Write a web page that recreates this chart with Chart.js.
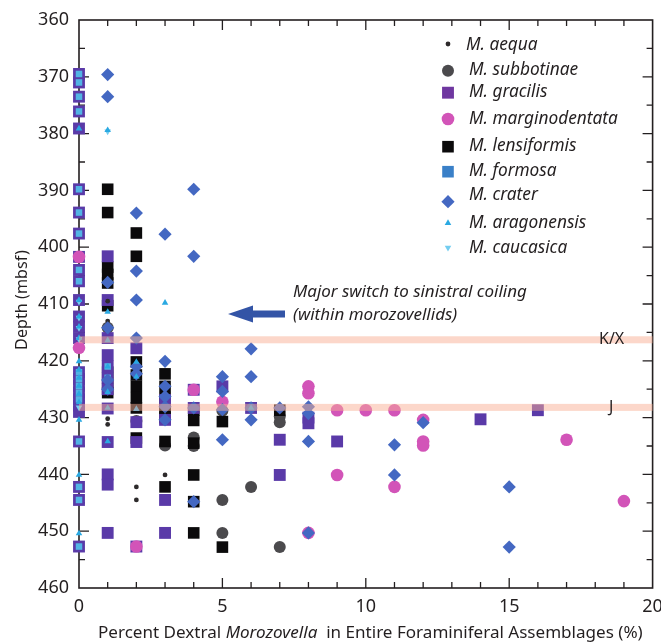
<!DOCTYPE html>
<html><head><meta charset="utf-8">
<script src="https://cdn.jsdelivr.net/npm/chart.js@4.4.1/dist/chart.umd.min.js"></script>
<style>html,body{margin:0;padding:0;background:#fff;overflow:hidden}</style>
</head><body>
<canvas id="c" width="661" height="642"></canvas>
<script>
// ---------- DATA ----------
const categories = ['M. aequa','M. subbotinae','M. gracilis','M. marginodentata','M. lensiformis','M. formosa','M. crater','M. aragonensis','M. caucasica'];
const xTickValues = [0,5,10,15,20];
const yTickValues = [360,370,380,390,400,410,420,430,440,450,460];
const bandDepths = [416.3, 428.2];
const bandLabels = ['K/X','J'];

const aequa = [[1,409.5],[1,413],[1,430.2],[1,431.2],[3,440.1],[2,442.2],[2,444.5]];
const subbotinae = [[1,414.2],[2,430.6],[3,428.6],[3,434.9],[4,433.5],[4,435],[5,428.8],[7,429.8],[7,430.8],[6,442.2],[5,444.5],[5,450.3],[7,452.8]];
const gracilis = [
 [0,369.5],[0,371],[0,373.5],[0,376.1],[0,379.1],[0,389.8],[0,393.9],[0,397.6],[0,401.7],[0,404],[0,406],[0,409.3],[0,412.2],[0,414],[0,416],
 [0,422],[0,423.2],[0,424.4],[0,425.6],[0,426.8],[0,427.9],[0,429],[0,434.2],[0,442.2],[0,444.5],[0,452.7],
 [1,401.6],[1,409.3],[1,416],[1,419],[1,421],[1,423],[1,425],[1,428.4],[1,434.3],[1,440],[1,441.8],[1,450.3],
 [2,417.8],[2,430.8],[2,434.3],[2,452.7],
 [3,426.9],[3,430.4],[3,444.5],[3,450.3],
 [4,425.1],[4,428.3],[5,424.5],[6,428.3],[7,433.9],[7,440.1],[8,430],[8,431],[9,434.2],[14,430.3],[16,428.7]
];
const marginodentata = [[0,401.7],[0,417.7],[2,452.7],[4,425.1],[5,427.2],[8,424.5],[8,425.7],[9,428.7],[10,428.7],[11,428.7],[12,430.4],[12,434.2],[12,434.9],[9,440.1],[11,442.2],[8,450.3],[17,433.9],[19,444.7]];
const lensiformis = [
 [1,389.8],[1,393.9],[1,403.5],[1,404.8],[1,406.3],[1,410.3],[1,422],[1,424],[1,425.6],
 [2,397.5],[2,401.6],[2,420.2],[2,422.5],[2,424.5],[2,426.5],[2,428.3],[2,433.6],
 [3,422.3],[3,424.5],[3,426.5],[3,428.5],[3,430],[3,434.2],[3,442.2],
 [4,428.7],[4,430.5],[4,434.5],[4,440.1],[4,444.8],[4,450.3],[5,430.7],[5,452.8],[7,428.7]
];
const formosa = [[0,369.5],[0,371],[0,373.5],[0,376.1],[0,389.8],[0,393.9],[0,397.6],[0,401.7],[0,404],[0,406],[0,422],[0,423.2],[0,424.4],[0,425.6],[0,426.8],[0,434.2],[0,442.2],[0,444.5],[0,452.7],[1,421],[1,423]];
const crater = [
 [1,369.6],[1,373.5],[4,389.8],[2,394],[3,397.7],[4,401.6],[2,404.2],[1,406.2],[2,409.3],[1,414.2],[2,416],[6,417.9],[3,420.1],[2,421],[2,422.3],
 [1,423.4],[1,425],[5,422.8],[6,422.8],[3,424.5],[5,425.4],[3,426.3],[3,428.1],[4,428.3],[5,428.6],[6,428.3],[7,428.3],[8,428.1],[8,429.3],[6,430.4],[3,430.4],
 [5,433.9],[8,434.2],[12,430.9],[11,434.8],[11,440.1],[15,442.2],[15,452.8],[4,444.8],[8,450.3]
];
const aragonensis = [[1,379.4],[3,409.8],[0,379.1],[0,409.3],[0,412.2],[0,414],[0,416],[0,420.1],[0,421.6],[0,423],[0,424.4],[0,425.8],[0,427.3],[0,430.4],[0,440.1],[0,450.4],
 [1,411.4],[1,416.4],[1,421],[1,425.5],[1,428.3],[1,434.2],[2,420.2],[2,422.8],[2,428.5],[6,428.3]];
const caucasica = [[1,379.6],[0,409.6],[0,412.4],[0,414.2],[0,416.2],[0,428.2]];

// ---------- STYLE ----------
const INK = '#231f20';
const FONT = '"Noto Sans", "Open Sans", sans-serif';
const toPts = a => a.map(p => ({x:p[0], y:p[1]}));
const seriesData = [aequa, subbotinae, gracilis, marginodentata, lensiformis, formosa, crater, aragonensis, caucasica];
const seriesStyle = [
 {style:'circle', r:2.4, color:'#2d2a2b', order:5, rot:0},
 {style:'circle', r:6, color:'#4b4a4d', order:9, rot:0},
 {style:'rect', r:8.4, color:'#5a3aa8', order:7, rot:0},
 {style:'circle', r:6.3, color:'#d254b8', order:4, rot:0},
 {style:'rect', r:8.2, color:'#0b0a0b', order:8, rot:0},
 {style:'rect', r:4.6, color:'#52b4e4', order:6, rot:0},
 {style:'rectRot', r:6.6, color:'#4468c2', order:3, rot:0},
 {style:'triangle', r:3.8, color:'#2aa9e2', order:1, rot:0},
 {style:'triangle', r:3.8, color:'#74cdf0', order:2, rot:180}
];

const datasets = categories.map((name,i) => ({
  label: name,
  data: toPts(seriesData[i]),
  pointStyle: seriesStyle[i].style,
  pointRadius: seriesStyle[i].r,
  pointRotation: seriesStyle[i].rot,
  backgroundColor: seriesStyle[i].color,
  borderColor: seriesStyle[i].color,
  pointBorderWidth: 0,
  clip: false,
  order: seriesStyle[i].order
}));

function marker(ctx, s, x, y){
  const r = s.r;
  ctx.beginPath();
  if (s.style === 'circle') ctx.arc(x, y, r, 0, Math.PI*2);
  else if (s.style === 'rect') { const h = r*Math.SQRT1_2; ctx.rect(x-h, y-h, 2*h, 2*h); }
  else if (s.style === 'rectRot') { ctx.moveTo(x-r,y); ctx.lineTo(x,y-r); ctx.lineTo(x+r,y); ctx.lineTo(x,y+r); ctx.closePath(); }
  else if (s.style === 'triangle') {
    let a = s.rot*Math.PI/180;
    ctx.moveTo(x+Math.sin(a)*r, y-Math.cos(a)*r);
    a += 2*Math.PI/3; ctx.lineTo(x+Math.sin(a)*r, y-Math.cos(a)*r);
    a += 2*Math.PI/3; ctx.lineTo(x+Math.sin(a)*r, y-Math.cos(a)*r);
    ctx.closePath();
  }
  ctx.fillStyle = s.color; ctx.fill();
}

function fitSize(ctx, segs, target){
  let w = 0;
  segs.forEach(s => { ctx.font = (s.it?'italic ':'') + '100px ' + FONT; w += ctx.measureText(s.t).width; });
  return 100*target/w;
}
function drawSegs(ctx, segs, x, y, size){
  segs.forEach(s => { ctx.font = (s.it?'italic ':'') + size.toFixed(2) + 'px ' + FONT; ctx.fillText(s.t, x, y); x += ctx.measureText(s.t).width; });
}

const decor = {
  id:'decor',
  beforeDatasetsDraw(chart){
    const {ctx, chartArea:a, scales:{x, y}} = chart;
    ctx.save();
    ctx.strokeStyle = INK; ctx.lineWidth = 1.6;
    ctx.strokeRect(a.left, a.top, a.right-a.left, a.bottom-a.top);
    ctx.lineWidth = 1.3; ctx.beginPath();
    for (let v = x.min+1; v < x.max; v++){
      const px = x.getPixelForValue(v), L = v%5===0 ? 10 : 6;
      ctx.moveTo(px, a.bottom); ctx.lineTo(px, a.bottom-L);
      ctx.moveTo(px, a.top); ctx.lineTo(px, a.top+L);
    }
    for (let v = y.min+5; v < y.max; v+=5){
      const py = y.getPixelForValue(v), L = v%10===0 ? 10 : 6;
      ctx.moveTo(a.left, py); ctx.lineTo(a.left+L, py);
      ctx.moveTo(a.right, py); ctx.lineTo(a.right-L, py);
    }
    ctx.stroke();
    ctx.restore();
  },
  afterDatasetsDraw(chart){
    const {ctx, chartArea:a, scales:{x, y}} = chart;
    ctx.save();
    ctx.fillStyle = 'rgba(250,175,150,0.5)';
    bandDepths.forEach(d => { const py = y.getPixelForValue(d); ctx.fillRect(a.left, py-3.5, a.right-a.left, 7); });
    ctx.fillStyle = INK; ctx.textBaseline = 'middle'; ctx.textAlign = 'left';
    ctx.font = '16px ' + FONT;
    ctx.fillText(bandLabels[0], 599, y.getPixelForValue(bandDepths[0]));
    ctx.fillText(bandLabels[1], 609, y.getPixelForValue(bandDepths[1]));
    const ay = 314;
    ctx.fillStyle = '#3354a6';
    ctx.fillRect(251, ay-3.5, 34, 7);
    ctx.beginPath(); ctx.moveTo(228, ay); ctx.lineTo(253, ay-8.5); ctx.lineTo(253, ay+8.5); ctx.closePath(); ctx.fill();
    ctx.fillStyle = INK; ctx.textBaseline = 'alphabetic';
    const s1 = [{t:'Major switch to sinistral coiling', it:true}];
    const sz = fitSize(ctx, s1, 234);
    drawSegs(ctx, s1, 293, 297, sz);
    drawSegs(ctx, [{t:'(within morozovellids)', it:true}], 293, 320, sz);
    ctx.restore();
  },
  afterDraw(chart){
    const {ctx, chartArea:a, scales:{x, y}} = chart;
    ctx.save();
    ctx.fillStyle = INK;
    ctx.font = '18px ' + FONT;
    ctx.textAlign = 'right'; ctx.textBaseline = 'middle';
    yTickValues.forEach(v => ctx.fillText(String(v), a.left-10, y.getPixelForValue(v)));
    ctx.textAlign = 'center';
    xTickValues.forEach(v => ctx.fillText(String(v), x.getPixelForValue(v), 607));
    ctx.textAlign = 'left'; ctx.textBaseline = 'middle';
    const segs = [{t:'Percent Dextral '},{t:'Morozovella', it:true},{t:'  in Entire Foraminiferal Assemblages (%)'}];
    drawSegs(ctx, segs, 98, 633, fitSize(ctx, segs, 545));
    ctx.save();
    ctx.translate(22, 300); ctx.rotate(-Math.PI/2);
    const ys = [{t:'Depth (mbsf)'}];
    const ysz = fitSize(ctx, ys, 100);
    ctx.font = ysz.toFixed(2)+'px '+FONT;
    const yw = ctx.measureText('Depth (mbsf)').width;
    drawSegs(ctx, ys, -yw/2, 0, ysz);
    ctx.restore();
    const rows = [50, 75, 97.3, 124, 151, 176, 200, 228.3, 252.7];
    const my   = [44, 70.7, 92.7, 119, 146.7, 171.7, 201.7, 223, 247.7];
    const lsz = fitSize(ctx, [{t:'M. marginodentata', it:true}], 149);
    ctx.textBaseline = 'alphabetic'; ctx.textAlign = 'left';
    categories.forEach((name, i) => {
      const st = Object.assign({}, seriesStyle[i]);
      if (i === 2) st.color = '#6f37a0';
      if (i === 5) { st.r = 8.2; st.color = '#3a80c8'; }
      marker(ctx, st, 448, my[i]);
      ctx.fillStyle = INK;
      drawSegs(ctx, [{t:name, it:true}], i===0 ? 466 : 469, rows[i], lsz);
    });
    ctx.restore();
  }
};

new Chart(document.getElementById('c'), {
  type: 'scatter',
  data: { datasets },
  options: {
    responsive: false,
    animation: false,
    layout: { padding: { top: 20, right: 7, bottom: 0, left: 0 } },
    plugins: { legend: { display: false }, tooltip: { enabled: false } },
    scales: {
      x: { type:'linear', min: 0, max: 20, ticks: { display:false, stepSize: 5 }, grid: { display:false }, border: { display:false },
           afterFit: s => { s.height = 54; } },
      y: { type:'linear', reverse: true, min: 360, max: 460, ticks: { display:false, stepSize: 10 }, grid: { display:false }, border: { display:false },
           afterFit: s => { s.width = 79; } }
    }
  },
  plugins: [decor]
});
</script>
</body></html>
